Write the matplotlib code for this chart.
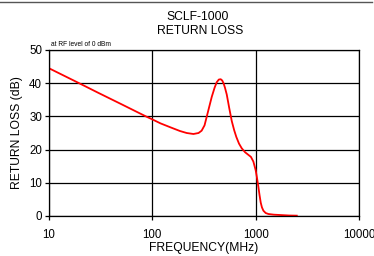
import matplotlib
matplotlib.use("Agg")
import matplotlib.pyplot as plt
from matplotlib.lines import Line2D
import matplotlib.ticker as ticker

plt.rcParams["font.family"] = ["Liberation Sans", "DejaVu Sans"]

# values
freq_mhz = [10, 19, 30, 50, 88, 100, 120, 150, 185, 215, 250, 280, 300, 320, 336,
            356, 376, 400, 420, 440, 459, 475, 490, 505, 525, 555, 587, 620, 650,
            690, 733, 790, 851, 900, 950, 1000, 1030, 1062, 1090, 1120, 1150, 1188,
            1250, 1329, 1500, 1722, 2100, 2500]
return_loss_db = [44.5, 40.2, 37.1, 33.7, 29.9, 29.1, 27.9, 26.7, 25.6, 25.0, 24.7,
                  25.0, 25.7, 27.3, 29.9, 33.0, 35.9, 38.6, 40.3, 41.1, 41.2, 40.8,
                  39.9, 38.6, 36.6, 32.5, 28.6, 25.8, 23.8, 21.8, 20.4, 19.2, 18.4,
                  17.8, 16.4, 13.8, 11.5, 8.8, 6.3, 4.0, 2.6, 1.6, 0.9, 0.6, 0.4, 0.3,
                  0.15, 0.1]
y_ticks = [0, 10, 20, 30, 40, 50]
x_ticks = [10, 100, 1000, 10000]

fig = plt.figure(figsize=(3.74, 2.56), dpi=100)
ax = fig.add_axes([49 / 374, 1 - 216 / 256, 310 / 374, 166 / 256])

ax.plot(freq_mhz, return_loss_db, color="#ff0000", linewidth=1.3)

ax.set_xscale("log")
ax.set_xlim(10, 10000)
ax.set_ylim(0, 50)
ax.set_xticks(x_ticks)
ax.set_xticklabels([str(v) for v in x_ticks])
ax.xaxis.set_minor_locator(ticker.NullLocator())
ax.set_yticks(y_ticks)

ax.grid(True, which="major", color="black", linewidth=0.9)
for s in ax.spines.values():
    s.set_color("black")
    s.set_linewidth(0.9)

ax.tick_params(axis="both", labelsize=8.3, length=3, width=0.9, pad=2)
ax.tick_params(axis="x", pad=6)

ax.set_xlabel("FREQUENCY(MHz)", fontsize=8.7, labelpad=1)
ax.set_ylabel("RETURN LOSS (dB)", fontsize=8.7, labelpad=4)

fig.text(198 / 374, 1 - 17.5 / 256, "SCLF-1000", ha="center", va="center", fontsize=8.7)
fig.text(200 / 374, 1 - 31 / 256, "RETURN LOSS", ha="center", va="center", fontsize=8.7)
ax.text(0.005, 1.01, "at RF level of 0 dBm", transform=ax.transAxes,
        fontsize=4.8, ha="left", va="bottom")

fig.add_artist(Line2D([0, 0.995], [0.994, 0.994], transform=fig.transFigure,
                      color="#555555", linewidth=1.0))

fig.savefig("out.png", dpi=100)
